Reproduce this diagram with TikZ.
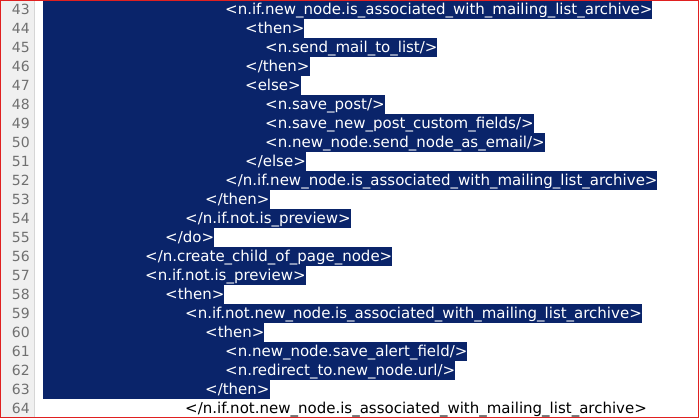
\documentclass[tikz,border=0pt]{standalone}
\usepackage{fontspec}
\newfontfamily\codefont{DejaVu Sans}
\definecolor{selblue}{HTML}{0A246A}
\definecolor{guttergray}{HTML}{F0F0F0}
\definecolor{gutterline}{HTML}{D6D6D6}
\definecolor{numgray}{HTML}{707070}
\definecolor{framered}{HTML}{E02020}
\newlength\indentw
\setlength\indentw{20pt}
\tikzset{
  codeline/.style={anchor=west, inner xsep=0pt, inner ysep=2pt,
    text height=12.5pt, text depth=2.5pt, font=\codefont\fontsize{15}{19}\selectfont},
  selline/.style={codeline, fill=selblue, text=white},
  linenum/.style={anchor=east, inner xsep=0pt, inner ysep=2pt,
    text height=12.5pt, text depth=2.5pt, text=numgray, font=\codefont\fontsize{14}{19}\selectfont}
}

\begin{document}
\begin{tikzpicture}[x=1pt,y=-1pt]
        \useasboundingbox (0,0) rectangle (700,419);
        % Draw the editor background and the line number gutter
        \fill[white] (0,0) rectangle (700,419);
        \fill[guttergray] (1,1) rectangle (34,418);
        \draw[gutterline] (34.5,1) -- (34.5,418);

        % Draw the selected lines 43 to 63
        \foreach \lvl/\txt [count=\i from 0] in {
            4/{<n.if.new\_node.is\_associated\_with\_mailing\_list\_archive>},
            5/{<then>},
            6/{<n.send\_mail\_to\_list/>},
            5/{</then>},
            5/{<else>},
            6/{<n.save\_post/>},
            6/{<n.save\_new\_post\_custom\_fields/>},
            6/{<n.new\_node.send\_node\_as\_email/>},
            5/{</else>},
            4/{</n.if.new\_node.is\_associated\_with\_mailing\_list\_archive>},
            3/{</then>},
            2/{</n.if.not.is\_preview>},
            1/{</do>},
            0/{</n.create\_child\_of\_page\_node>},
            0/{<n.if.not.is\_preview>},
            1/{<then>},
            2/{<n.if.not.new\_node.is\_associated\_with\_mailing\_list\_archive>},
            3/{<then>},
            4/{<n.new\_node.save\_alert\_field/>},
            4/{<n.redirect\_to.new\_node.url/>},
            3/{</then>}} {
            \pgfmathtruncatemacro\lno{43+\i}
            \node[selline] (row\lno) at (43,{19*\i+9.5}) {\hspace*{\dimexpr102pt+\lvl\indentw\relax}\txt};
            \node[linenum] (num\lno) at (30,{19*\i+9.5}) {\lno};
        }

        % Last line is not selected
        \node[codeline] (row64) at (43,{19*21+9.5}) {\hspace*{\dimexpr102pt+2\indentw\relax}</n.if.not.new\_node.is\_associated\_with\_mailing\_list\_archive>};
        \node[linenum] (num64) at (30,{19*21+9.5}) {64};

        % Red window frame
        \draw[framered] (0.5,0.5) rectangle (698.5,417.5);
\end{tikzpicture}
\end{document}
